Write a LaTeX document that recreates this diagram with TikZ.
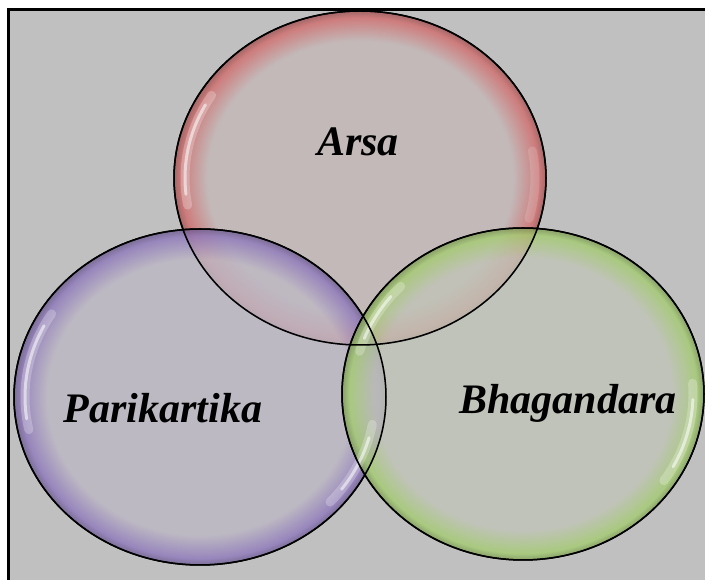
\documentclass[tikz,border=0pt]{standalone}
\usepackage{fontspec}
\setmainfont{Liberation Serif}
\usetikzlibrary{shapes.geometric}
\definecolor{bggray}{HTML}{C0C0C0}
\definecolor{rin}{HTML}{C4B8B8}
\definecolor{rout}{HTML}{D26C6C}
\definecolor{pin}{HTML}{BDB8C4}
\definecolor{pout}{HTML}{8E78BC}
\definecolor{gin}{HTML}{C1C4B8}
\definecolor{gout}{HTML}{A4CC70}
\pgfdeclareradialshading{redglass}{\pgfpoint{0bp}{0bp}}{color(0bp)=(rin); color(20.5bp)=(rin); color(24bp)=(rout); color(25bp)=(rout!75!black); color(50bp)=(rout!75!black)}
\pgfdeclareradialshading{purpleglass}{\pgfpoint{0bp}{0bp}}{color(0bp)=(pin); color(20.5bp)=(pin); color(24bp)=(pout); color(25bp)=(pout!75!black); color(50bp)=(pout!75!black)}
\pgfdeclareradialshading{greenglass}{\pgfpoint{0bp}{0bp}}{color(0bp)=(gin); color(20.5bp)=(gin); color(24bp)=(gout); color(25bp)=(gout!75!black); color(50bp)=(gout!75!black)}
\tikzset{
  bubble/.style={ellipse, inner sep=0pt, draw=black, line width=1.5pt, fill opacity=0.8},
  label/.style={font=\fontsize{42}{42}\selectfont\bfseries\itshape, text=black, anchor=base, inner sep=0pt},
  shine/.style={white, line cap=round, opacity=0.55, line width=3pt},
  softshine/.style={white, line cap=round, opacity=0.25, line width=9pt}
}
\begin{document}
\begin{tikzpicture}[x=1pt,y=1pt]
\useasboundingbox (0,0) rectangle (705,580);
\fill[white] (0,0) rectangle (705,580);
\fill[bggray] (9,0) rectangle (705,571);
\draw[black, line width=3pt] (8.5,0) -- (8.5,570.5) -- (705,570.5);
% bubbles
\node[bubble, shading=redglass, minimum width=372pt, minimum height=334pt] (red) at (360,402) {};
\node[bubble, shading=purpleglass, minimum width=372pt, minimum height=336pt] (purple) at (200,183) {};
\node[bubble, shading=greenglass, minimum width=362pt, minimum height=332pt] (green) at (523,186) {};
% highlights
\begin{scope}
\clip (360,402) ellipse [x radius=186, y radius=167];
\draw[softshine] ([shift={(148:175 and 156)}]360,402) arc[start angle=148, end angle=190, x radius=175, y radius=156];
\draw[shine] ([shift={(152:175 and 156)}]360,402) arc[start angle=152, end angle=186, x radius=175, y radius=156];
\draw[softshine, opacity=0.15] ([shift={(-15:175 and 156)}]360,402) arc[start angle=-15, end angle=10, x radius=175, y radius=156];
\end{scope}
\begin{scope}
\clip (200,183) ellipse [x radius=186, y radius=168];
\draw[softshine] ([shift={(148:175 and 157)}]200,183) arc[start angle=148, end angle=192, x radius=175, y radius=157];
\draw[shine] ([shift={(153:175 and 157)}]200,183) arc[start angle=153, end angle=188, x radius=175, y radius=157];
\draw[softshine] ([shift={(-42:175 and 157)}]200,183) arc[start angle=-42, end angle=-10, x radius=175, y radius=157];
\draw[shine] ([shift={(-36:175 and 157)}]200,183) arc[start angle=-36, end angle=-15, x radius=175, y radius=157];
\end{scope}
\begin{scope}
\clip (523,186) ellipse [x radius=181, y radius=166];
\draw[softshine] ([shift={(136:170 and 155)}]523,186) arc[start angle=136, end angle=164, x radius=170, y radius=155];
\draw[shine] ([shift={(141:170 and 155)}]523,186) arc[start angle=141, end angle=159, x radius=170, y radius=155];
\draw[softshine] ([shift={(-34:170 and 155)}]523,186) arc[start angle=-34, end angle=4, x radius=170, y radius=155];
\draw[shine] ([shift={(-28:170 and 155)}]523,186) arc[start angle=-28, end angle=-2, x radius=170, y radius=155];
\end{scope}
% outlines again on top
\draw[black, line width=1.5pt] (360,402) ellipse [x radius=186, y radius=167];
\draw[black, line width=1.5pt] (200,183) ellipse [x radius=186, y radius=168];
\draw[black, line width=1.5pt] (523,186) ellipse [x radius=181, y radius=166];
% labels
\node[label] (arsa) at (358,424) {Arsa};
\node[label] (pari) at (163,157) {Parikartika};
\node[label] (bhag) at (568,166) {Bhagandara};
\end{tikzpicture}
\end{document}
